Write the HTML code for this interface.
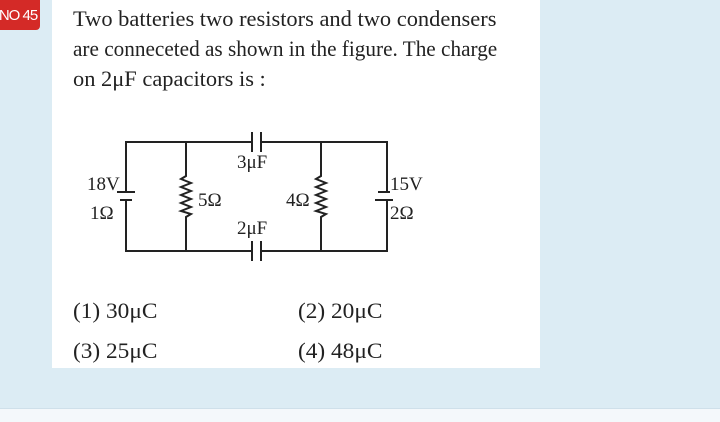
<!DOCTYPE html>
<html><head><style>
body{margin:0;width:720px;height:421px;background:#dcecf4;position:relative;overflow:hidden;font-family:"Liberation Serif",serif;color:#222}
.panel{position:absolute;left:52px;top:0;width:488px;height:368px;background:#fff}
.badge{position:absolute;left:-4px;top:0;width:44px;height:30px;background:#d42a27;border-radius:0 0 4px 0;color:#fff;font:15px "Liberation Sans",sans-serif;line-height:32px;text-align:center;letter-spacing:-1px}
.l{position:absolute;left:73px;font-size:22px;line-height:30px;white-space:nowrap;transform-origin:left}
.o{position:absolute;font-size:22px;transform:scaleX(1.06);transform-origin:left}
.foot{position:absolute;left:0;top:408px;width:720px;height:13px;background:#f4f8fb;border-top:1px solid #cfe0ea}
</style></head><body>
<div class="panel"></div>
<div class="badge">NO 45</div>
<div class="l" style="top:4px;transform:scaleX(1.02)">Two batteries two resistors and two condensers</div>
<div class="l" style="top:34px;transform:scaleX(0.965)">are conneceted as shown in the figure. The charge</div>
<div class="l" style="top:64px;transform:scaleX(1.02)">on 2μF capacitors is :</div>
<svg style="position:absolute;left:0;top:0" width="720" height="421" stroke="#222" stroke-width="2" fill="none">
<path d="M126 192V142H252M261 142H387V192M387 200V251H261M252 251H126V200"/>
<path d="M252 132V152M261 132V152M252 241V261M261 241V261"/>
<path d="M117 192H135M120 200H132M378 192H390M375 200H393"/>
<path d="M186 142V176L181 179L191 183L181 187L191 191L181 195L191 199L181 203L191 207L181 211L191 214L186 217V251"/>
<path d="M321 142V176L316 179L326 183L316 187L326 191L316 195L326 199L316 203L326 207L316 211L326 214L321 217V251"/>
<g fill="#222" stroke="none" font-family="Liberation Serif,serif" font-size="19">
<text x="87" y="190">18V</text><text x="90" y="219">1Ω</text>
<text x="198" y="206">5Ω</text><text x="286" y="206">4Ω</text>
<text x="237" y="168">3μF</text><text x="237" y="234">2μF</text>
<text x="390" y="190">15V</text><text x="390" y="219">2Ω</text>
</g></svg>
<div class="o" style="left:73px;top:298px">(1) 30μC</div>
<div class="o" style="left:298px;top:298px">(2) 20μC</div>
<div class="o" style="left:73px;top:338px">(3) 25μC</div>
<div class="o" style="left:298px;top:338px">(4) 48μC</div>
<div class="foot"></div>
</body></html>
